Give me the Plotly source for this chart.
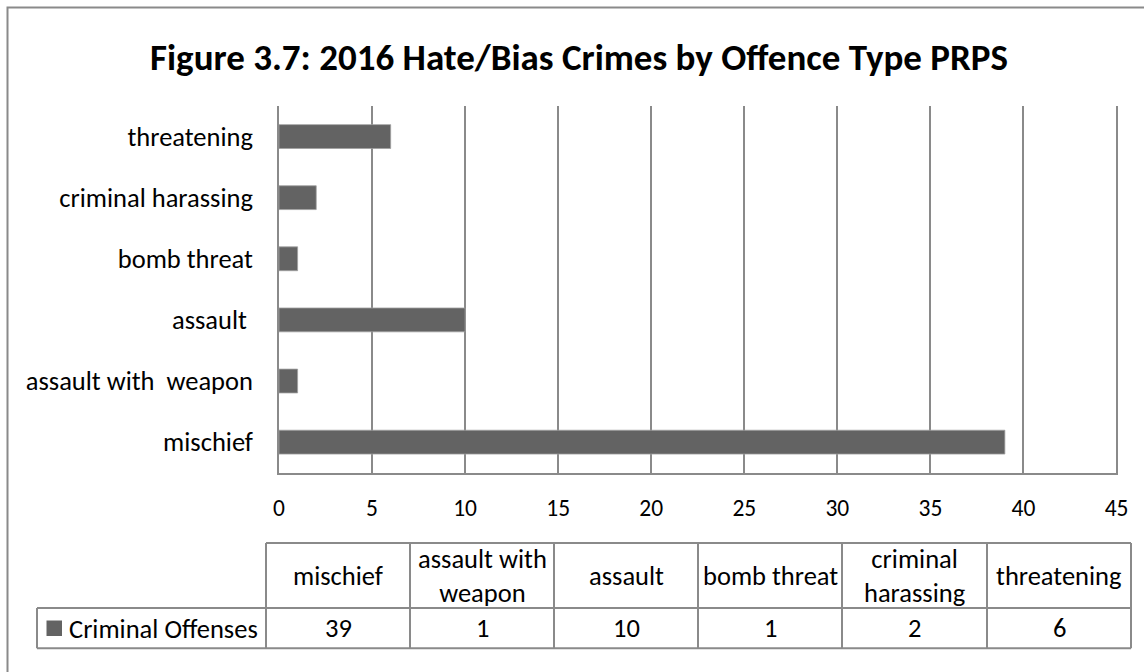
import plotly.graph_objects as go

# Offence categories (bottom-to-top on the bar chart, left-to-right in the data table)
categories = ["mischief", "assault with weapon", "assault", "bomb threat",
              "criminal harassing", "threatening"]
axis_labels = ["mischief", "assault with\u00a0\u00a0weapon", "assault\u00a0", "bomb threat",
               "criminal harassing", "threatening"]
table_headers = ["mischief", "assault with<br>weapon", "assault", "bomb threat",
                 "criminal<br>harassing", "threatening"]
offenses = [39, 1, 10, 1, 2, 6]
series_name = "Criminal Offenses"
x_ticks = [0, 5, 10, 15, 20, 25, 30, 35, 40, 45]

W, H = 1144, 672
FONT = "Carlito, Lato, sans-serif"
BAR = "#636363"
LINE = "#8a8a8a"
TXT = 26.5


def fx(px):
    return px / W


def fy(py):
    return 1 - py / H


fig = go.Figure(go.Bar(
    x=offenses, y=categories, orientation="h",
    marker=dict(color=BAR, line=dict(color="#a0a0a0", width=0.8)),
    width=0.39, name=series_name, showlegend=False,
))

fig.update_layout(
    width=W, height=H,
    margin=dict(l=0, r=0, t=0, b=0, autoexpand=False),
    paper_bgcolor="white", plot_bgcolor="white",
    font=dict(family=FONT, size=TXT, color="#000000"),
    title=dict(text="<b>Figure 3.7: 2016 Hate/Bias Crimes by Offence Type PRPS</b>",
               x=fx(579), xanchor="center", y=fy(57), yanchor="middle",
               font=dict(family=FONT, size=37, color="#000000")),
    # range runs a hair past 45 so the last gridline is still drawn
    xaxis=dict(domain=[fx(279), fx(1118.4)], range=[0, 45.1], tickvals=x_ticks,
               showgrid=True, gridcolor=LINE, gridwidth=1.5, zeroline=False,
               showline=True, linecolor=LINE, linewidth=1.5, automargin=False,
               tickfont=dict(size=23.5),
               ticks="", ticklabelstandoff=13, fixedrange=True),
    yaxis=dict(domain=[fy(472.7), fy(106)], categoryorder="array",
               categoryarray=categories, tickvals=categories, ticktext=axis_labels,
               showgrid=False, zeroline=False, showline=True, linecolor=LINE,
               linewidth=1.5, automargin=False,
               ticks="", ticklabelstandoff=19, fixedrange=True),
)

shapes = []
annotations = []

# outer chart frame
shapes.append(dict(type="rect", xref="paper", yref="paper",
                   x0=fx(7.5), x1=fx(1160), y0=fy(7.5), y1=fy(690),
                   line=dict(color=LINE, width=2), fillcolor="rgba(0,0,0,0)"))

# data table grid
col_edges = [266, 410, 554, 698, 842, 987, 1131]
row_top, row_mid, row_bot = 543, 608, 648.3
legend_left = 37

table_line = dict(color=LINE, width=2)
# horizontal rules
shapes.append(dict(type="line", xref="paper", yref="paper", x0=fx(col_edges[0]), x1=fx(col_edges[-1]),
                   y0=fy(row_top), y1=fy(row_top), line=table_line))
shapes.append(dict(type="line", xref="paper", yref="paper", x0=fx(legend_left), x1=fx(col_edges[-1]),
                   y0=fy(row_mid), y1=fy(row_mid), line=table_line))
shapes.append(dict(type="line", xref="paper", yref="paper", x0=fx(legend_left), x1=fx(col_edges[-1]),
                   y0=fy(row_bot), y1=fy(row_bot), line=table_line))
# vertical rules
shapes.append(dict(type="line", xref="paper", yref="paper", x0=fx(legend_left), x1=fx(legend_left),
                   y0=fy(row_mid), y1=fy(row_bot), line=table_line))
for xe in col_edges:
    shapes.append(dict(type="line", xref="paper", yref="paper", x0=fx(xe), x1=fx(xe),
                       y0=fy(row_top), y1=fy(row_bot), line=table_line))

# legend key in the data row
shapes.append(dict(type="rect", xref="paper", yref="paper", x0=fx(46.5), x1=fx(62),
                   y0=fy(620.5), y1=fy(636), line=dict(width=0), fillcolor=BAR))
annotations.append(dict(text=series_name, xref="paper", yref="paper", x=fx(67), y=fy(628.5),
                        xanchor="left", yanchor="middle", showarrow=False,
                        font=dict(family=FONT, size=TXT)))

for i, (hdr, val) in enumerate(zip(table_headers, offenses)):
    cx = (col_edges[i] + col_edges[i + 1]) / 2
    annotations.append(dict(text=hdr, xref="paper", yref="paper", x=fx(cx), y=fy((row_top + row_mid) / 2),
                            xanchor="center", yanchor="middle", showarrow=False,
                            font=dict(family=FONT, size=TXT)))
    annotations.append(dict(text=str(val), xref="paper", yref="paper", x=fx(cx), y=fy((row_mid + row_bot) / 2),
                            xanchor="center", yanchor="middle", showarrow=False,
                            font=dict(family=FONT, size=TXT)))

fig.update_layout(shapes=shapes, annotations=annotations)
fig.write_html("out.html")
